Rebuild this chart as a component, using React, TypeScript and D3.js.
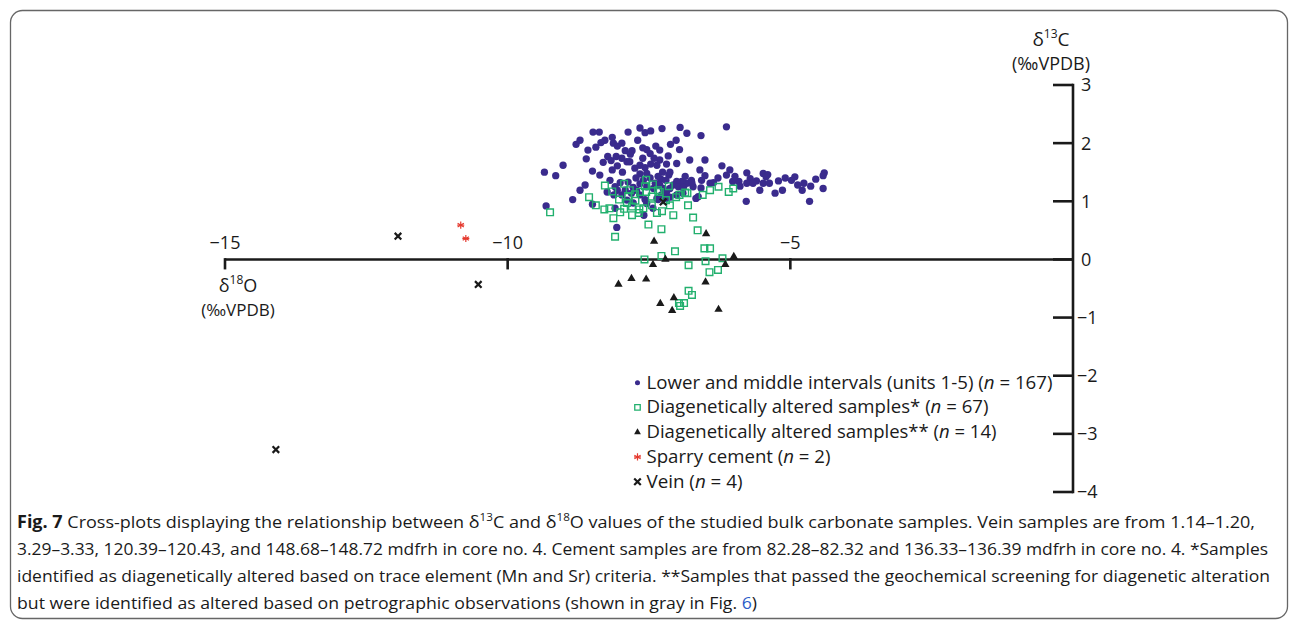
import React from 'react';
import * as d3 from 'd3';

// [δ18O, δ13C] pairs
const lowerMiddle: [number, number][] = [
  [-6.13, 2.28], [-6.95, 2.27], [-7.27, 2.25], [-7.47, 2.21], [-7.57, 2.18], [-8.38, 2.19], [-6.58, 2.13],
  [-8.28, 2.05], [-8.35, 2.01], [-8.79, 1.98], [-8.13, 2.0], [-7.98, 2.0], [-8.06, 1.95], [-7.12, 1.98],
  [-7.38, 1.95], [-7.61, 1.92], [-7.54, 1.89], [-7.92, 1.87], [-7.8, 1.87], [-6.96, 1.89], [-7.48, 1.82],
  [-7.83, 1.81], [-8.23, 1.77], [-8.08, 1.77], [-7.98, 1.74], [-8.61, 1.73], [-7.61, 1.74], [-7.31, 1.71],
  [-8.17, 1.7], [-7.89, 1.68], [-7.84, 1.68], [-8.06, 1.61], [-7.19, 1.64], [-7.01, 1.65], [-7.47, 1.64],
  [-7.36, 1.62], [-7.57, 1.58], [-9.02, 1.62], [-6.21, 1.61], [-9.35, 1.5], [-9.15, 1.44], [-8.5, 1.52],
  [-7.66, 1.47], [-7.54, 1.48], [-7.26, 1.5], [-7.15, 1.45], [-7.29, 1.38], [-7.2, 1.36], [-7.6, 1.36],
  [-6.51, 1.44], [-6.13, 1.45], [-5.77, 1.49], [-5.48, 1.48], [-5.4, 1.46], [-5.43, 1.42], [-4.92, 1.42],
  [-4.98, 1.36], [-4.4, 1.49], [-4.42, 1.44], [-4.55, 1.38], [-6.02, 1.34], [-5.91, 1.34], [-5.71, 1.39],
  [-5.6, 1.35], [-5.48, 1.31], [-5.37, 1.31], [-5.21, 1.35], [-4.76, 1.31], [-4.64, 1.26], [-4.42, 1.22],
  [-4.79, 1.19], [-5.14, 1.19], [-5.27, 1.14], [-4.66, 1.0], [-5.78, 1.0], [-6.42, 1.31], [-6.36, 1.32],
  [-6.57, 1.36], [-6.58, 1.23], [-6.75, 1.36], [-6.83, 1.31], [-6.92, 1.34], [-7.01, 1.34], [-7.07, 1.28],
  [-7.13, 1.22], [-6.98, 1.25], [-6.89, 1.24], [-6.72, 1.25], [-6.63, 1.08], [-6.67, 1.05], [-7.25, 1.22],
  [-7.19, 1.16], [-7.28, 1.11], [-7.36, 1.05], [-7.2, 1.05], [-7.13, 1.07], [-7.01, 1.11], [-7.42, 1.22],
  [-7.54, 1.25], [-7.66, 1.3], [-7.78, 1.24], [-7.72, 1.19], [-7.81, 1.14], [-8.01, 1.32], [-8.1, 1.25],
  [-8.06, 1.19], [-8.12, 1.11], [-7.98, 1.11], [-7.66, 1.11], [-7.57, 1.03], [-8.85, 1.03], [-8.5, 0.95],
  [-9.32, 0.92], [-8.1, 0.88], [-7.54, 0.96], [-7.59, 0.76], [-8.07, 0.55], [-7.34, 1.03], [-5.77, 1.31],
  [-5.66, 1.31], [-7.39, 1.31], [-7.48, 1.4], [-7.34, 1.43], [-7.73, 1.4], [-7.87, 1.33], [-7.92, 1.19],
  [-8.19, 1.36], [-8.24, 1.16], [-6.86, 1.43], [-6.74, 1.31], [-6.28, 1.4], [-6.9, 1.14], [-7.66, 1.62],
  [-7.75, 1.57], [-8.15, 1.54], [-7.97, 1.5], [-8.31, 1.67], [-7.7, 2.05], [-7.31, 1.88], [-7.16, 1.78],
  [-6.78, 1.71], [-6.51, 1.71], [-7.89, 1.02], [-7.78, 0.97], [-7.43, 0.88], [-7.31, 1.28], [-5.89, 1.26],
  [-5.09, 1.4], [-4.87, 1.28], [-5.54, 1.19], [-8.37, 1.45], [-8.63, 1.28], [-6.07, 1.54], [-8.72, 2.05],
  [-8.49, 2.19], [-6.83, 2.17], [-7.02, 2.05], [-8.58, 1.88], [-8.44, 1.93], [-7.87, 2.19], [-8.15, 2.1],
  [-7.66, 2.26], [-7.13, 1.5], [-7.41, 1.74], [-8.72, 1.19], [-6.6, 1.54], [-5.98, 1.43],
];

const alteredTrace: [number, number][] = [
  [-8.28, 1.27], [-7.94, 1.3], [-8.15, 1.17], [-8.56, 1.07], [-9.25, 0.81], [-8.29, 0.86], [-8.2, 0.88],
  [-8.03, 1.03], [-7.94, 0.87], [-7.89, 0.97], [-7.8, 0.91], [-7.74, 1.01], [-7.75, 1.12], [-7.67, 0.86],
  [-7.68, 0.8], [-7.6, 0.88], [-7.55, 1.37], [-7.57, 1.26], [-7.45, 1.08], [-7.43, 1.29], [-7.27, 0.83],
  [-7.02, 1.07], [-6.96, 1.11], [-6.86, 1.15], [-6.82, 1.14], [-6.72, 0.72], [-7.51, 0.6], [-7.28, 0.52],
  [-6.64, 0.5], [-6.27, 1.25], [-6.09, 1.16], [-6.01, 1.22], [-8.1, 0.39], [-7.04, 0.14], [-7.28, 0.06],
  [-7.58, 0.0], [-6.52, 0.19], [-6.42, 0.19], [-6.2, 0.02], [-6.5, -0.03], [-6.8, -0.1], [-6.43, -0.22],
  [-6.28, -0.18], [-6.8, -0.54], [-6.74, -0.61], [-6.88, -0.75], [-6.97, -0.75], [-6.95, -0.8],
  [-7.84, 1.19], [-7.34, 1.19], [-7.2, 1.02], [-8.01, 0.81], [-7.45, 0.93], [-7.36, 0.8], [-7.13, 0.93],
  [-7.66, 1.16], [-7.87, 1.09], [-8.44, 0.93], [-7.31, 1.16], [-6.55, 1.11], [-6.42, 1.19], [-7.07, 0.76],
  [-7.8, 0.76], [-8.13, 0.71], [-6.81, 0.93], [-7.55, 1.16], [-7.15, 1.26],
];

const alteredPetro: [number, number][] = [
  [-6.49, 0.44], [-7.41, 0.31], [-7.21, 0.0], [-7.43, -0.09], [-6.0, 0.05], [-6.15, -0.09], [-8.04, -0.43],
  [-7.81, -0.33], [-7.55, -0.34], [-6.5, -0.39], [-7.06, -0.66], [-7.3, -0.76], [-7.09, -0.88], [-6.27, -0.86],
];

const sparryCement: [number, number][] = [[-10.83, 0.59], [-10.74, 0.36]];

const vein: [number, number][] = [[-11.94, 0.4], [-10.52, -0.43], [-14.1, -3.27], [-7.25, 0.99]];

const xTicks = [-15, -10, -5];
const yTicks = [3, 2, 1, 0, -1, -2, -3, -4];

const legendLabels = [
  { text: 'Lower and middle intervals (units 1-5) (', n: '167', w: 406 },
  { text: 'Diagenetically altered samples* (', n: '67', w: 342 },
  { text: 'Diagenetically altered samples** (', n: '14', w: 350 },
  { text: 'Sparry cement (', n: '2', w: 184 },
  { text: 'Vein (', n: '4', w: 96 },
];

const PURPLE = '#3a2b8d';
const GREEN = '#22b06e';
const RED = '#e53a2f';
const INK = '#1a1a1a';
const FONT = "'Open Sans', 'Noto Sans', sans-serif";

const fmt = (v: number) => (v < 0 ? '\u2212' : '') + Math.abs(v);

const App: React.FC = () => {
  const x = d3.scaleLinear().domain([-15, 0]).range([225, 1073]);
  const y = d3.scaleLinear().domain([-4, 3]).range([492, 85]);

  const circle = d3.symbol().type(d3.symbolCircle).size(42)() as string;
  const square = d3.symbol().type(d3.symbolSquare).size(44)() as string;
  const tri = d3.symbol().type(d3.symbolTriangle).size(30)() as string;
  const star = d3.symbol().type(d3.symbolAsterisk).size(36)() as string;
  const times = d3.symbol().type(d3.symbolTimes).size(30)() as string;

  const lcircle = d3.symbol().type(d3.symbolCircle).size(20)() as string;
  const lsquare = d3.symbol().type(d3.symbolSquare).size(30)() as string;
  const ltri = d3.symbol().type(d3.symbolTriangle).size(20)() as string;

  const legendRows = [0, 1, 2, 3, 4].map((i) => 382.7 + i * 24.75);
  const markers = [
    <path d={lcircle} fill={PURPLE} />,
    <path d={lsquare} fill="none" stroke={GREEN} strokeWidth={1.3} />,
    <path d={ltri} fill={INK} />,
    <g>
      <path d={star} fill="none" stroke={RED} strokeWidth={1.2} />
      <line x1={-3.5} x2={3.5} y1={0} y2={0} stroke={RED} strokeWidth={1.2} />
    </g>,
    <path d={times} fill="none" stroke={INK} strokeWidth={2.2} />,
  ];

  const captionLines = [1238, 1251, 1253, 740];

  return (
    <svg width={1290} height={620} style={{ position: 'fixed', left: 0, top: 0 }} fontFamily={FONT}>
      <rect x={0} y={0} width={1290} height={620} fill="#fff" />
      <rect x={10.5} y={10.5} width={1277} height={608} rx={12} fill="none" stroke="#666" strokeWidth={1.3} />

      {/* x axis */}
      <line x1={x(-15)} x2={x(0)} y1={y(0)} y2={y(0)} stroke={INK} strokeWidth={2.6} />
      {xTicks.map((t) => (
        <g key={t}>
          <line x1={x(t)} x2={x(t)} y1={y(0) - 1.3} y2={y(0) + 10} stroke={INK} strokeWidth={2.6} />
          <text x={x(t)} y={249} textAnchor="middle" fontSize={18} fill={INK}>{fmt(t)}</text>
        </g>
      ))}
      <text x={238} y={292} textAnchor="middle" fontSize={18} fill={INK}>
        δ<tspan fontSize={12} dy={-8}>18</tspan><tspan dy={8}>O</tspan>
      </text>
      <text x={238} y={316} textAnchor="middle" fontSize={17} fill={INK}>(‰VPDB)</text>

      {/* y axis */}
      <line x1={x(0)} x2={x(0)} y1={y(3) - 1.3} y2={y(-4) + 1.3} stroke={INK} strokeWidth={2.6} />
      {yTicks.map((t) => (
        <g key={t}>
          <line x1={x(0) - 20} x2={x(0)} y1={y(t)} y2={y(t)} stroke={INK} strokeWidth={2.6} />
          <text x={t < 0 ? 1077 : 1081} y={y(t)} dy="0.36em" fontSize={18} fill={INK}>{fmt(t)}</text>
        </g>
      ))}
      <text x={1051} y={46} textAnchor="middle" fontSize={19} fill={INK}>
        δ<tspan fontSize={12} dy={-8}>13</tspan><tspan dy={8}>C</tspan>
      </text>
      <text x={1051} y={70} textAnchor="middle" fontSize={18} fill={INK}>(‰VPDB)</text>

      {/* points */}
      {lowerMiddle.map((d, i) => (
        <path key={'c' + i} d={circle} transform={`translate(${x(d[0])},${y(d[1])})`} fill={PURPLE} />
      ))}
      {alteredTrace.map((d, i) => (
        <path key={'s' + i} d={square} transform={`translate(${x(d[0])},${y(d[1])})`} fill="none" stroke={GREEN} strokeWidth={1.4} />
      ))}
      {alteredPetro.map((d, i) => (
        <path key={'t' + i} d={tri} transform={`translate(${x(d[0])},${y(d[1])})`} fill={INK} />
      ))}
      {sparryCement.map((d, i) => (
        <g key={'a' + i} transform={`translate(${x(d[0])},${y(d[1])})`}>
          <path d={star} fill="none" stroke={RED} strokeWidth={1.2} />
          <line x1={-3.5} x2={3.5} y1={0} y2={0} stroke={RED} strokeWidth={1.2} />
        </g>
      ))}
      {vein.map((d, i) => (
        <path key={'v' + i} d={times} transform={`translate(${x(d[0])},${y(d[1])})`} fill="none" stroke={INK} strokeWidth={2.2} />
      ))}

      {/* legend */}
      {legendLabels.map((l, i) => (
        <g key={'l' + i}>
          <g transform={`translate(637.5,${legendRows[i]})`}>{markers[i]}</g>
          <text x={646.5} y={legendRows[i] + 6} fontSize={18} fill={INK} textLength={l.w} lengthAdjust="spacingAndGlyphs">
            {l.text}<tspan fontStyle="italic">n</tspan> = {l.n})
          </text>
        </g>
      ))}

      {/* caption */}
      <g fontSize={17} fill={INK}>
        <text x={17} y={528} textLength={captionLines[0]} lengthAdjust="spacingAndGlyphs">
          <tspan fontWeight="bold">Fig. 7</tspan> Cross-plots displaying the relationship between δ
          <tspan fontSize={11} dy={-7}>13</tspan><tspan dy={7}>C and δ</tspan>
          <tspan fontSize={11} dy={-7}>18</tspan><tspan dy={7}>O values of the studied bulk carbonate samples. Vein samples are from 1.14–1.20,</tspan>
        </text>
        <text x={17} y={555} textLength={captionLines[1]} lengthAdjust="spacingAndGlyphs">
          3.29–3.33, 120.39–120.43, and 148.68–148.72 mdfrh in core no. 4. Cement samples are from 82.28–82.32 and 136.33–136.39 mdfrh in core no. 4. *Samples
        </text>
        <text x={17} y={582} textLength={captionLines[2]} lengthAdjust="spacingAndGlyphs">
          identified as diagenetically altered based on trace element (Mn and Sr) criteria. **Samples that passed the geochemical screening for diagenetic alteration
        </text>
        <text x={17} y={609} textLength={captionLines[3]} lengthAdjust="spacingAndGlyphs">
          but were identified as altered based on petrographic observations (shown in gray in Fig. <tspan fill="#2a5cc8">6</tspan>)
        </text>
      </g>
    </svg>
  );
};

export default App;
